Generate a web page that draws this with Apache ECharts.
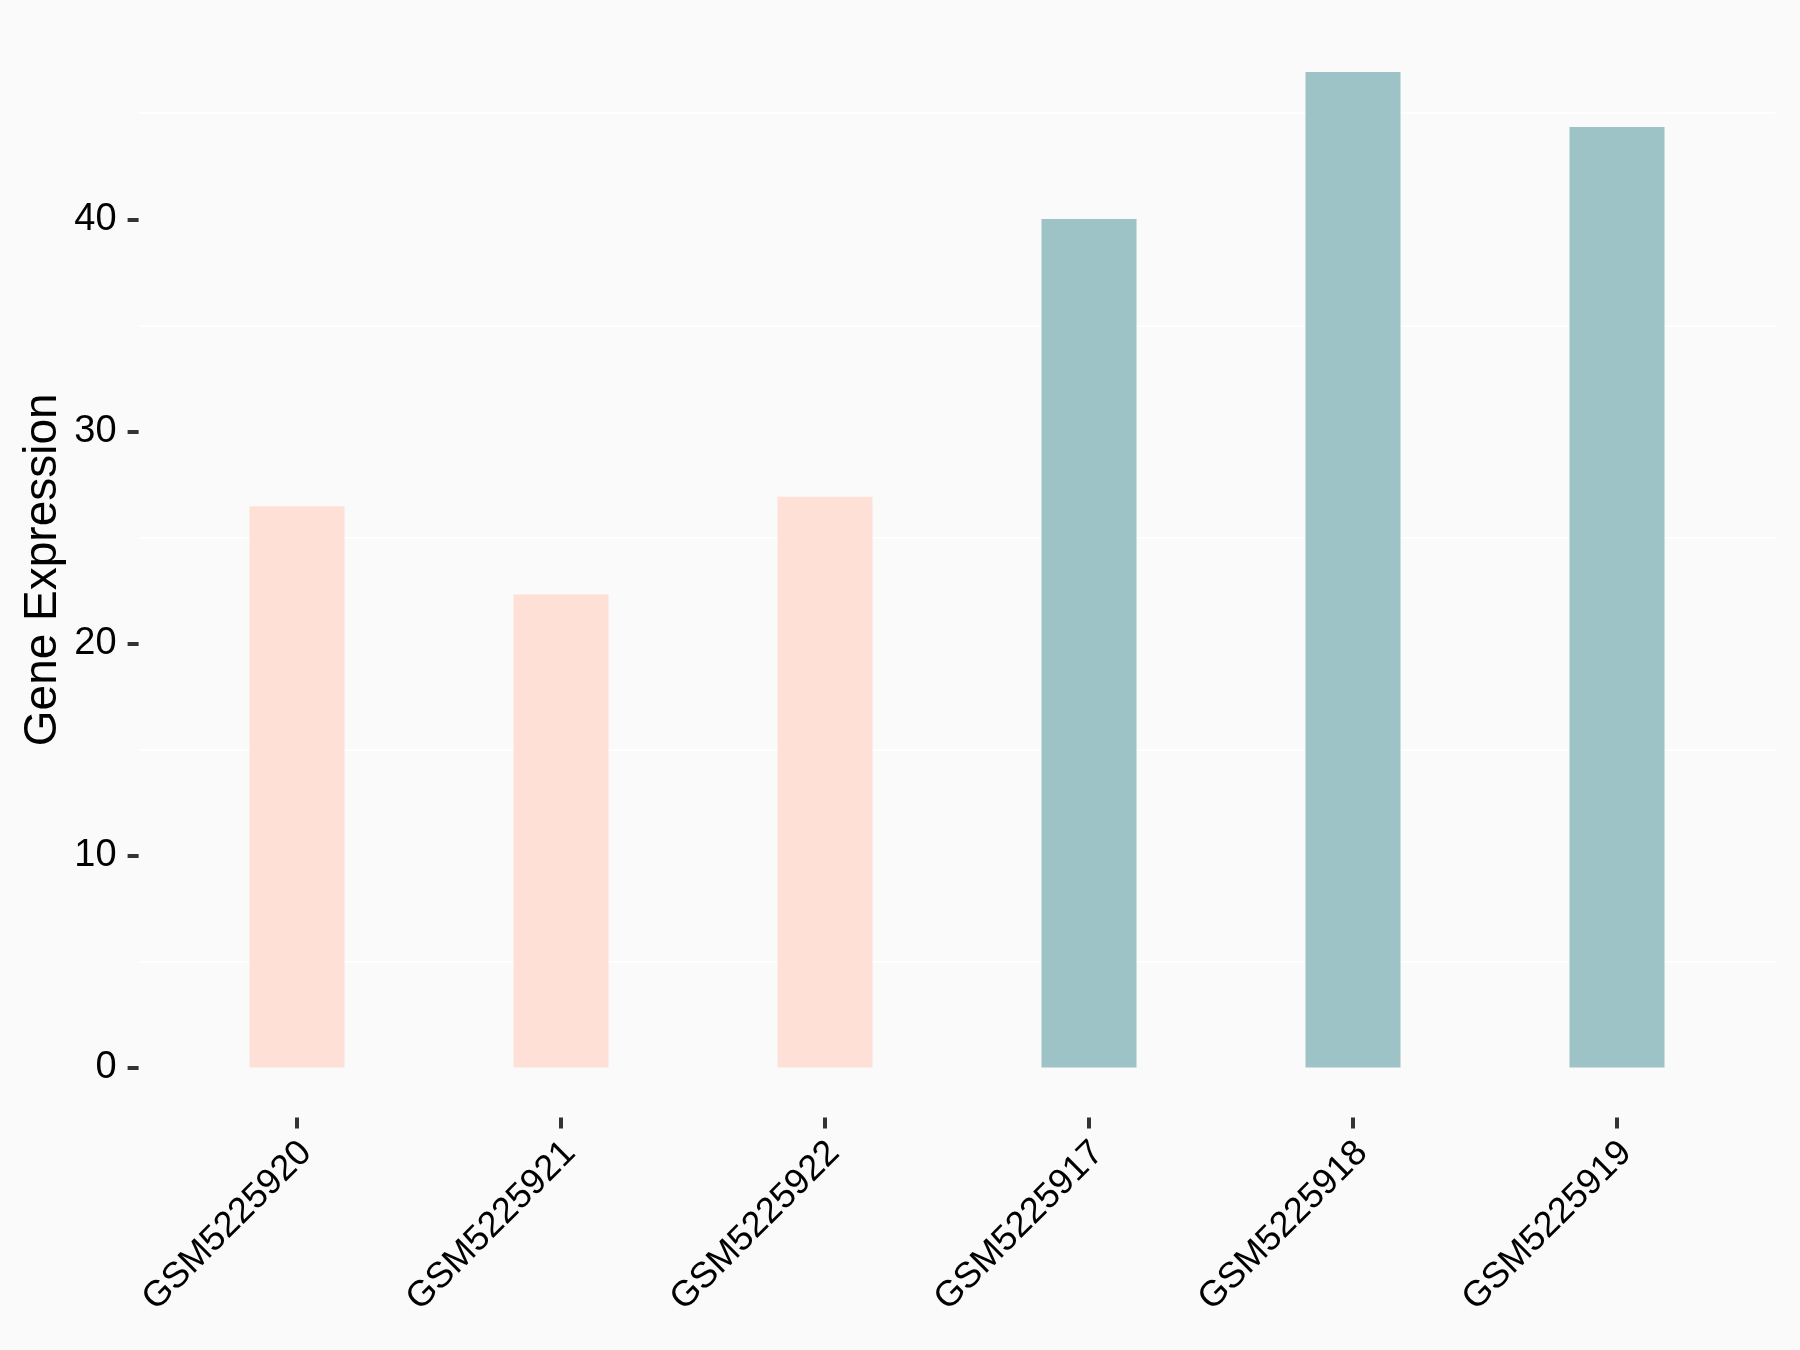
<!DOCTYPE html>
<html>
<head>
<meta charset="utf-8">
<script src="https://cdn.jsdelivr.net/npm/echarts@6/dist/echarts.min.js"></script>
<style>
html,body{margin:0;padding:0;background:#FAFAFA;}
#chart{width:1800px;height:1350px;}
</style>
</head>
<body>
<div id="chart"></div>
<script>
const categories = ['GSM5225920','GSM5225921','GSM5225922','GSM5225917','GSM5225918','GSM5225919'];
const values = [26.47, 22.31, 26.91, 40.01, 46.94, 44.35];
const groupColors = ['#FFE0D6','#FFE0D6','#FFE0D6','#9DC3C7','#9DC3C7','#9DC3C7'];
const yTicks = [0, 10, 20, 30, 40];
const yTitle = 'Gene Expression';

const FONT = 'Liberation Sans, Arial, sans-serif';
const dataMax = Math.max(...values);
const yMin = -0.05 * dataMax;
const yMax = dataMax * 1.05;

const chart = echarts.init(document.getElementById('chart'), null, {renderer:'canvas'});
chart.setOption({
  backgroundColor: '#FAFAFA',
  animation: false,
  grid: [
    {left: 165, right: 51, top: 22.2, height: 1095.2},
    {left: 138.6, right: 24.6, top: 7.1, height: 1060.5},
    {left: 138.6, right: 24.6, top: 219.3, height: 848.3},
    {left: 174, right: 42, top: 22.2, height: 1095.2}
  ],
  xAxis: [
    {
      gridIndex: 0, type: 'category', data: categories,
      axisLine: {show: false, onZero: false},
      axisTick: {show: true, alignWithLabel: true, length: 11, lineStyle: {color: '#333333', width: 4}},
      axisLabel: {show: false},
      splitLine: {show: false}
    },
    {gridIndex: 1, type: 'value', show: false},
    {gridIndex: 2, type: 'value', show: false},
    {
      gridIndex: 3, type: 'category', data: categories,
      axisLine: {show: false, onZero: false},
      axisTick: {show: false},
      axisLabel: {rotate: 45, fontSize: 36, color: '#000', fontFamily: FONT, margin: 30, interval: 0},
      splitLine: {show: false}
    }
  ],
  yAxis: [
    {
      gridIndex: 0, type: 'value', min: yMin, max: yMax,
      axisLine: {show: false}, axisTick: {show: false}, axisLabel: {show: false},
      splitLine: {show: false},
      name: yTitle, nameLocation: 'middle', nameGap: 99,
      nameTextStyle: {fontSize: 46, color: '#000', fontFamily: FONT}
    },
    {
      gridIndex: 1, type: 'value', min: 0, max: 50, interval: 10,
      axisLine: {show: false}, axisTick: {show: false}, axisLabel: {show: false},
      splitLine: {show: false},
      minorTick: {show: false, splitNumber: 2},
      minorSplitLine: {show: true, lineStyle: {color: '#FFFFFF', width: 2}}
    },
    {
      gridIndex: 2, type: 'value', min: 0, max: 40, interval: 10,
      axisLine: {show: false},
      axisTick: {show: true, length: 11, lineStyle: {color: '#333333', width: 4}},
      axisLabel: {fontSize: 38, color: '#000', fontFamily: FONT, margin: 22,
        formatter: v => (yTicks.includes(v) ? String(v) : '')},
      splitLine: {show: false}
    },
    {gridIndex: 3, type: 'value', show: false}
  ],
  series: [{
    type: 'bar',
    xAxisIndex: 0, yAxisIndex: 0,
    data: values.map((v, i) => ({value: v, itemStyle: {color: groupColors[i]}})),
    barWidth: '36%'
  }]
});
</script>
</body>
</html>
